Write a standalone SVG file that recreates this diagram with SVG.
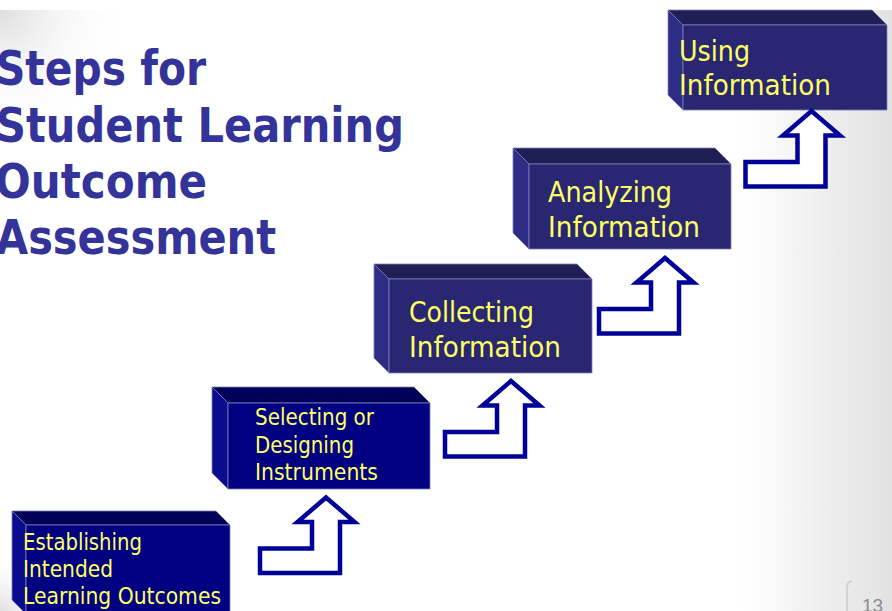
<svg xmlns="http://www.w3.org/2000/svg" width="892" height="611" viewBox="0 0 892 611">
  <defs>
    <linearGradient id="rightShade" x1="0" y1="0" x2="1" y2="0">
      <stop offset="0" stop-color="#e2e2e2" stop-opacity="0"/>
      <stop offset="1" stop-color="#e2e2e2" stop-opacity="1"/>
    </linearGradient>
    <radialGradient id="cornerShade" cx="0" cy="10" r="130" gradientUnits="userSpaceOnUse">
      <stop offset="0" stop-color="#dedede"/>
      <stop offset="1" stop-color="#ffffff" stop-opacity="0"/>
    </radialGradient>
    <radialGradient id="blShade" cx="0" cy="611" r="60" gradientUnits="userSpaceOnUse">
      <stop offset="0" stop-color="#e0e0e0"/>
      <stop offset="1" stop-color="#ffffff" stop-opacity="0"/>
    </radialGradient>
    <path id="stepArrow" d="M -66 51 L -14 51 L -14 24.5 L -28.5 24.5 L 0 0 L 28.5 24.5 L 14 24.5 L 14 75.5 L -66 75.5 Z"/>
    <style>
      .title { font-family: "DejaVu Sans", "Liberation Sans", sans-serif; font-weight: bold; font-size: 48px; fill: #333399; }
      .lbl { font-family: "DejaVu Sans", "Liberation Sans", sans-serif; fill: #ffff66; }
      .big { font-size: 29px; }
      .small { font-size: 23px; }
      .navy .front { fill: #000080; }
      .navy .top { fill: #000058; }
      .navy .side { fill: #0b0b8e; }
      .slate .front { fill: #292772; }
      .slate .top { fill: #1f1f56; }
      .slate .side { fill: #2e2d86; }
      .face { stroke: #7d7dbb; stroke-width: 0.8; stroke-linejoin: round; }
      .arrow { fill: #ffffff; stroke: #000099; stroke-width: 4.5; stroke-linejoin: miter; stroke-miterlimit: 10; }
      .pnum { font-family: "Liberation Sans", "DejaVu Sans", sans-serif; font-size: 19px; fill: #8c8c8c; }
    </style>
  </defs>

  <g id="background">
    <rect x="0" y="0" width="892" height="611" fill="#ffffff"/>
    <rect x="0" y="10" width="892" height="601" fill="url(#cornerShade)"/>
    <rect x="740" y="10" width="152" height="601" fill="url(#rightShade)"/>
    <rect x="0" y="540" width="80" height="71" fill="url(#blShade)"/>
  </g>

  <g id="title">
    <text class="title" x="-4" y="85" textLength="210" lengthAdjust="spacingAndGlyphs">Steps for</text>
    <text class="title" x="-4" y="141.5" textLength="408" lengthAdjust="spacingAndGlyphs">Student Learning</text>
    <text class="title" x="-5" y="197.5" textLength="212" lengthAdjust="spacingAndGlyphs">Outcome</text>
    <text class="title" x="-4" y="254" textLength="280" lengthAdjust="spacingAndGlyphs">Assessment</text>
  </g>

  <g id="step1" class="navy">
    <polygon class="face top" points="12,511 216,511 230,525 26,525"/>
    <polygon class="face side" points="12,511 26,525 26,614 12,600"/>
    <rect class="face front" x="26" y="525" width="204" height="89"/>
    <text class="lbl small" x="23" y="550" textLength="119" lengthAdjust="spacingAndGlyphs">Establishing</text>
    <text class="lbl small" x="23" y="577" textLength="90" lengthAdjust="spacingAndGlyphs">Intended</text>
    <text class="lbl small" x="23" y="604" textLength="198" lengthAdjust="spacingAndGlyphs">Learning Outcomes</text>
  </g>

  <g id="step2" class="navy">
    <polygon class="face top" points="212,387 414,387 430,403 228,403"/>
    <polygon class="face side" points="212,387 228,403 228,489 212,473"/>
    <rect class="face front" x="228" y="403" width="202" height="86"/>
    <text class="lbl small" x="255" y="425" textLength="119" lengthAdjust="spacingAndGlyphs">Selecting or</text>
    <text class="lbl small" x="255" y="453" textLength="99" lengthAdjust="spacingAndGlyphs">Designing</text>
    <text class="lbl small" x="255" y="480" textLength="123" lengthAdjust="spacingAndGlyphs">Instruments</text>
  </g>

  <g id="step3" class="slate">
    <polygon class="face top" points="374,264 577,264 592,279 389,279"/>
    <polygon class="face side" points="374,264 389,279 389,373 374,358"/>
    <rect class="face front" x="389" y="279" width="203" height="94"/>
    <text class="lbl big" x="409" y="322" textLength="125" lengthAdjust="spacingAndGlyphs">Collecting</text>
    <text class="lbl big" x="409" y="357" textLength="152" lengthAdjust="spacingAndGlyphs">Information</text>
  </g>

  <g id="step4" class="slate">
    <polygon class="face top" points="513,148 715,148 731,164 529,164"/>
    <polygon class="face side" points="513,148 529,164 529,249 513,233"/>
    <rect class="face front" x="529" y="164" width="202" height="85"/>
    <text class="lbl big" x="548" y="202" textLength="124" lengthAdjust="spacingAndGlyphs">Analyzing</text>
    <text class="lbl big" x="548" y="237" textLength="152" lengthAdjust="spacingAndGlyphs">Information</text>
  </g>

  <g id="step5" class="slate">
    <polygon class="face top" points="668,10 872,10 887,25 683,25"/>
    <polygon class="face side" points="668,10 683,25 683,110 668,95"/>
    <rect class="face front" x="683" y="25" width="204" height="85"/>
    <text class="lbl big" x="679" y="61" textLength="71" lengthAdjust="spacingAndGlyphs">Using</text>
    <text class="lbl big" x="679" y="95" textLength="152" lengthAdjust="spacingAndGlyphs">Information</text>
  </g>

  <g id="connectors">
    <use href="#stepArrow" class="arrow" transform="translate(326,497.5)"/>
    <use href="#stepArrow" class="arrow" transform="translate(511,381)"/>
    <use href="#stepArrow" class="arrow" transform="translate(665,258)"/>
    <use href="#stepArrow" class="arrow" transform="translate(811.5,111)"/>
  </g>

  <g id="page-number">
    <path d="M 847 611 L 847 587 Q 847 582 852 581" fill="none" stroke="#d2d2d2" stroke-width="2"/>
    <text class="pnum" x="862" y="612">13</text>
  </g>
</svg>
